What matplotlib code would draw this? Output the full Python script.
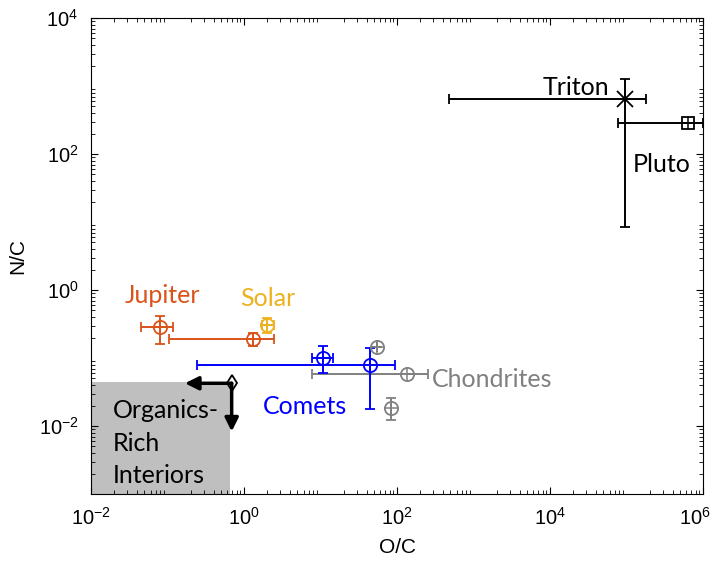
import matplotlib.pyplot as plt
import matplotlib.transforms as mtransforms
from matplotlib.patches import Rectangle

plt.rcParams['font.family'] = ['Liberation Sans', 'DejaVu Sans']
LABEL_FONT = ['Lato', 'DejaVu Sans']

ORANGE = '#D95319'
YELLOW = '#EDB120'
BLUE = '#0000FF'
GREY = '#808080'

# Jupiter (two estimates)
jup_x = [0.080, 1.30]
jup_y = [0.288, 0.188]
jup_xlo = [0.0446, 0.104]
jup_xhi = [0.117, 2.47]
jup_ylo = [0.161, 0.150]
jup_yhi = [0.415, 0.233]

# Solar
sol_x = [1.98]
sol_y = [0.305]
sol_xlo = [1.70]
sol_xhi = [2.47]
sol_ylo = [0.233]
sol_yhi = [0.39]

# Comets
com_x = [10.9, 44]
com_y = [0.101, 0.079]
com_xlo = [7.7, 0.245]
com_xhi = [14.4, 94]
com_ylo = [0.0596, 0.0176]
com_yhi = [0.152, 0.139]

# Chondrites
cho_x = [54, 134, 83]
cho_y = [0.147, 0.0575, 0.0186]
cho_xlo = [54, 7.7, 83]
cho_xhi = [54, 251, 83]
cho_ylo = [0.147, 0.0575, 0.0123]
cho_yhi = [0.147, 0.0575, 0.0258]

# Triton
tri_x = [9.5e4]
tri_y = [653]
tri_xlo = [480]
tri_xhi = [1.8e5]
tri_ylo = [8.4]
tri_yhi = [1280]

# Pluto
plu_x = [6.3e5]
plu_y = [286]
plu_xlo = [7.8e4]
plu_xhi = [1.0e6]
plu_ylo = [286]
plu_yhi = [286]

# organics-rich interiors (upper limits)
org_x = 0.69
org_y = 0.0425
org_xlim = 0.169
org_ylim = 0.0083
box_x = 0.656
box_y = 0.0447


def errs(v, lo, hi):
    return [[a - b for a, b in zip(v, lo)], [c - a for a, c in zip(v, hi)]]


def draw(ax, x, y, xlo, xhi, ylo, yhi, color, marker='o', cross=True, ms=9.5):
    ax.errorbar(x, y, xerr=errs(x, xlo, xhi), yerr=errs(y, ylo, yhi),
                fmt=marker, color=color, mfc='none', mec=color, ms=ms, mew=1.3,
                elinewidth=1.4, capsize=3.8, capthick=1.4, zorder=3)
    if cross:
        ax.plot(x, y, '+', color=color, ms=ms, mew=1.1, zorder=4)


fig = plt.figure(figsize=(7.16, 5.64), dpi=100)
ax = fig.add_axes([91/716, 70/564, 612/716, 476/564])
ax.set_xscale('log')
ax.set_yscale('log')
ax.set_xlim(1e-2, 1e6)
ax.set_ylim(1e-3, 1e4)

ax.add_patch(Rectangle((1e-2, 1e-3), box_x - 1e-2, box_y - 1e-3,
                       facecolor='#bfbfbf', edgecolor='none', zorder=1))

draw(ax, jup_x, jup_y, jup_xlo, jup_xhi, jup_ylo, jup_yhi, ORANGE)
draw(ax, sol_x, sol_y, sol_xlo, sol_xhi, sol_ylo, sol_yhi, YELLOW)
draw(ax, cho_x, cho_y, cho_xlo, cho_xhi, cho_ylo, cho_yhi, GREY)
draw(ax, com_x, com_y, com_xlo, com_xhi, com_ylo, com_yhi, BLUE)
draw(ax, tri_x, tri_y, tri_xlo, tri_xhi, tri_ylo, tri_yhi, 'black', marker='x', cross=False, ms=11)
draw(ax, plu_x, plu_y, plu_xlo, plu_xhi, plu_ylo, plu_yhi, 'black', marker='s', ms=8.5)

# upper-limit arrows
arr = dict(arrowstyle='-|>,head_width=0.4,head_length=0.8', color='black', lw=2.5,
           shrinkA=0, shrinkB=0)
ax.annotate('', xy=(org_xlim, org_y), xytext=(org_x, org_y), arrowprops=arr, zorder=3)
ax.annotate('', xy=(org_x, org_ylim), xytext=(org_x, org_y), arrowprops=arr, zorder=3)
ax.plot([org_x], [org_y], 'd', color='black', mfc='none', ms=8.5, mew=1.3, zorder=4)

txt = dict(fontsize=18, family=LABEL_FONT, va='center')
ax.text(0.087, 0.82, 'Jupiter', color=ORANGE, ha='center', **txt)
ax.text(2.06, 0.74, 'Solar', color=YELLOW, ha='center', **txt)
ax.text(6.3, 0.0195, 'Comets', color=BLUE, ha='center', **txt)
ax.text(290, 0.048, 'Chondrites', color=GREY, ha='left', **txt)
ax.text(6.0e4, 965, 'Triton', color='black', ha='right', **txt)
ax.text(1.2e5, 69, 'Pluto', color='black', ha='left', **txt)
ax.text(0.0194, 0.0056, 'Organics-\nRich\nInteriors', color='black', ha='left',
        linespacing=1.5, **txt)

ax.set_xlabel('O/C', fontsize=15, labelpad=7)
ax.set_ylabel('N/C', fontsize=15, labelpad=8)
ax.tick_params(which='both', direction='in', top=True, right=True, labelsize=14.5)
ax.tick_params(which='major', length=5, pad=9)
ax.tick_params(which='minor', length=3)
ax.set_xticks([1e-2, 1e0, 1e2, 1e4, 1e6])
ax.set_yticks([1e-2, 1e0, 1e2, 1e4])

# keep the last x tick label inside the figure
fig.canvas.draw()
last = ax.get_xticklabels()[-1]
last.set_transform(last.get_transform() +
                   mtransforms.ScaledTranslation(-6/72, 0, fig.dpi_scale_trans))

fig.savefig('out.png', dpi=100)
